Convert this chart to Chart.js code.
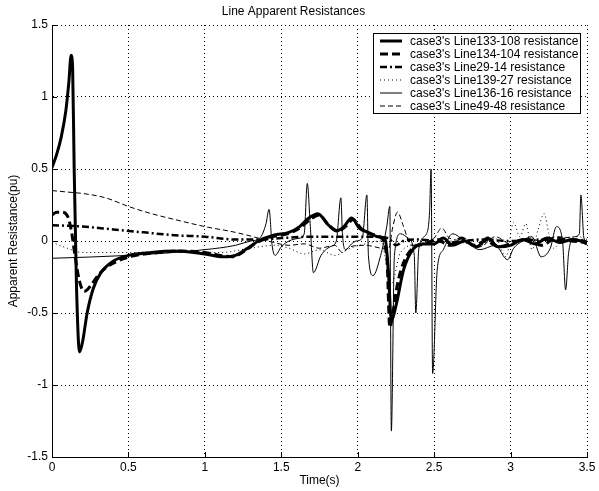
<!DOCTYPE html>
<html>
<head>
<meta charset="utf-8">
<script src="https://cdn.jsdelivr.net/npm/chart.js@4.4.0/dist/chart.umd.min.js"></script>
<style>
  body { margin: 0; background: #fff; }
  #wrap { width: 599px; height: 491px; }
</style>
</head>
<body>
<div id="wrap"><canvas id="chart-1"></canvas></div>
<script>
const xTicks = [0, 0.5, 1, 1.5, 2, 2.5, 3, 3.5];
const yTicks = [-1.5, -1, -0.5, 0, 0.5, 1, 1.5];

const names = [
  "case3's Line133-108 resistance",
  "case3's Line134-104 resistance",
  "case3's Line29-14 resistance",
  "case3's Line139-27 resistance",
  "case3's Line136-16 resistance",
  "case3's Line49-48 resistance",
];

// Line133-108
const t1 = [0, .03, .06, .09, .11, .125, .135, .145, .16, .18, .2, .23, .27, .32, .4, .5, .65, .8, 1.0, 1.12, 1.2, 1.28, 1.35, 1.45, 1.55, 1.62, 1.68, 1.74, 1.8, 1.86, 1.91, 1.96, 2.01, 2.07, 2.13, 2.18, 2.2, 2.22, 2.25, 2.3, 2.36, 2.42, 2.5, 2.56, 2.62, 2.7, 2.78, 2.85, 2.92, 3.0, 3.08, 3.16, 3.24, 3.32, 3.4, 3.46, 3.5];
const r1 = [.51, .6, .72, .9, 1.1, 1.29, 1.2, .5, -.3, -.77, -.7, -.5, -.33, -.22, -.14, -.1, -.08, -.07, -.09, -.11, -.1, -.05, 0, .04, .06, .1, .16, .19, .12, .07, .1, .16, .09, .06, .03, .01, -.2, -.55, -.45, -.2, -.06, -.02, -.02, .02, -.03, 0, -.04, .02, -.04, -.03, .01, -.02, .02, -.01, .01, 0, -.02];

// Line134-104
const t2 = [0, .03, .06, .09, .11, .13, .15, .18, .21, .23, .26, .3, .36, .45, .55, .7, .85, 1.0, 1.1, 1.18, 1.26, 1.34, 1.44, 1.54, 1.62, 1.69, 1.75, 1.81, 1.87, 1.92, 1.97, 2.02, 2.08, 2.14, 2.19, 2.21, 2.23, 2.26, 2.3, 2.36, 2.44, 2.52, 2.6, 2.68, 2.76, 2.84, 2.92, 3.0, 3.1, 3.2, 3.3, 3.4, 3.5];
const r2 = [.18, .2, .2, .19, .15, .05, -.1, -.28, -.35, -.34, -.3, -.24, -.18, -.13, -.1, -.08, -.07, -.08, -.1, -.11, -.07, -.01, .03, .05, .09, .15, .18, .11, .07, .1, .15, .09, .05, .03, -.1, -.6, -.5, -.3, -.15, -.05, -.02, .01, -.03, .02, -.03, 0, -.04, -.02, .01, -.03, .02, 0, -.01];

// Line29-14
const t3 = [0, .2, .4, .6, .8, 1.0, 1.2, 1.35, 1.5, 1.7, 1.9, 2.1, 2.2, 2.25, 2.3, 2.4, 2.6, 2.8, 3.0, 3.2, 3.4, 3.5];
const r3 = [.11, .1, .08, .06, .04, .03, .01, .01, .02, .03, .03, .03, .02, -.03, 0, .01, -.01, .01, 0, .01, 0, .01];

// Line139-27
const t4 = [0, .1, .2, .3, .5, .8, 1.1, 1.3, 1.45, 1.55, 1.65, 1.75, 1.85, 1.95, 2.05, 2.15, 2.22, 2.28, 2.4, 2.6, 2.8, 2.9, 2.97, 3.02, 3.06, 3.1, 3.14, 3.18, 3.22, 3.25, 3.28, 3.35, 3.45, 3.5];
const r4 = [-.01, -.05, -.08, -.08, -.08, -.07, -.08, -.05, -.03, -.05, -.09, -.06, -.1, -.05, -.02, 0, -.3, -.08, -.02, 0, -.03, .02, -.11, .13, .03, .12, -.06, .08, .19, .05, -.05, .02, .03, 0];

// Line136-16
const t5 = [0, .5, 1.0, 1.2, 1.3, 1.36, 1.4, 1.42, 1.44, 1.46, 1.5, 1.55, 1.62, 1.65, 1.67, 1.69, 1.71, 1.76, 1.82, 1.86, 1.89, 1.9, 1.92, 1.96, 1.99, 2.03, 2.06, 2.07, 2.1, 2.15, 2.19, 2.21, 2.22, 2.24, 2.28, 2.33, 2.37, 2.38, 2.4, 2.45, 2.47, 2.48, 2.49, 2.52, 2.56, 2.62, 2.7, 2.8, 2.9, 2.98, 3.02, 3.08, 3.14, 3.2, 3.26, 3.3, 3.34, 3.36, 3.38, 3.42, 3.45, 3.46, 3.48, 3.5];
const r5 = [-.12, -.1, -.06, -.03, 0, .02, .12, .22, -.03, -.1, -.04, 0, .02, .05, .4, .1, -.22, -.1, -.04, 0, .3, .05, -.06, -.02, 0, .02, .32, -.1, -.24, -.1, .1, .24, -1.32, -.1, .05, .02, -.1, -.5, -.05, .05, .2, .5, -.92, -.2, -.06, .05, 0, -.06, -.03, -.13, -.05, 0, .03, -.11, -.05, .1, 0, -.34, -.08, .03, .05, .32, .02, 0];

// Line49-48
const t6 = [0, .1, .2, .35, .5, .65, .8, 1.0, 1.2, 1.35, 1.45, 1.55, 1.65, 1.75, 1.85, 1.9, 1.95, 2.05, 2.15, 2.2, 2.23, 2.26, 2.3, 2.35, 2.42, 2.5, 2.55, 2.6, 2.7, 2.8, 2.9, 3.0, 3.1, 3.2, 3.3, 3.4, 3.5];
const r6 = [.35, .34, .33, .3, .24, .19, .15, .1, .06, .02, -.01, -.03, -.02, -.05, -.03, -.08, -.04, -.03, -.05, -.06, .1, .2, .1, -.03, -.02, .02, .09, .02, 0, -.04, .03, -.02, .02, 0, .03, .02, 0];

function pts(t, r) {
  return t.map(function (x, i) { return { x: x, y: r[i] }; });
}

const styles = [
  { borderWidth: 3, borderDash: [] },
  { borderWidth: 3, borderDash: [8, 4] },
  { borderWidth: 2.5, borderDash: [7, 3, 2, 3] },
  { borderWidth: 1, borderDash: [1, 3] },
  { borderWidth: 1, borderDash: [] },
  { borderWidth: 1, borderDash: [5, 3] },
];

const series = [[t1, r1], [t2, r2], [t3, r3], [t4, r4], [t5, r5], [t6, r6]];

const datasets = series.map(function (s, i) {
  return {
    label: names[i],
    data: pts(s[0], s[1]),
    borderColor: "#000",
    borderWidth: styles[i].borderWidth,
    borderDash: styles[i].borderDash,
    pointRadius: 0,
    cubicInterpolationMode: "monotone",
    fill: false,
  };
});

const FONT = "Liberation Sans, Arial, sans-serif";

// legend box drawn inside the plot, top right
const boxLegend = {
  id: "boxLegend",
  afterDraw(chart) {
    const ctx = chart.ctx;
    const area = chart.chartArea;
    const x0 = area.right - 214, y0 = area.top + 8, w = 207, h = 80;
    ctx.save();
    ctx.fillStyle = "#fff";
    ctx.fillRect(x0, y0, w, h);
    ctx.strokeStyle = "#000";
    ctx.lineWidth = 1;
    ctx.setLineDash([]);
    ctx.strokeRect(x0 + 0.5, y0 + 0.5, w, h);
    ctx.font = "12px " + FONT;
    ctx.fillStyle = "#000";
    ctx.textBaseline = "middle";
    chart.data.datasets.forEach(function (ds, i) {
      const y = y0 + 8 + i * 13;
      ctx.beginPath();
      ctx.lineWidth = ds.borderWidth;
      ctx.setLineDash(ds.borderDash);
      ctx.moveTo(x0 + 7, y);
      ctx.lineTo(x0 + 29, y);
      ctx.stroke();
      ctx.setLineDash([]);
      ctx.fillText(ds.label, x0 + 37, y + 0.5);
    });
    ctx.restore();
  },
};

// small inward tick marks like the original plot
const inTicks = {
  id: "inTicks",
  afterDraw(chart) {
    const ctx = chart.ctx;
    const a = chart.chartArea;
    const xs = chart.scales.x, ys = chart.scales.y;
    ctx.save();
    ctx.strokeStyle = "#000";
    ctx.lineWidth = 1;
    ctx.beginPath();
    xTicks.forEach(function (v) {
      const p = Math.round(xs.getPixelForValue(v)) + 0.5;
      ctx.moveTo(p, a.bottom);
      ctx.lineTo(p, a.bottom - 5);
    });
    yTicks.forEach(function (v) {
      const p = Math.round(ys.getPixelForValue(v)) + 0.5;
      ctx.moveTo(a.left, p);
      ctx.lineTo(a.left + 5, p);
    });
    ctx.stroke();
    ctx.restore();
  },
};

function plain(v) { return String(v); }

new Chart(document.getElementById("chart-1"), {
  type: "line",
  data: { datasets: datasets },
  plugins: [boxLegend, inTicks],
  options: {
    responsive: true,
    maintainAspectRatio: false,
    animation: false,
    layout: { padding: { right: 12 } },
    plugins: {
      legend: { display: false },
      tooltip: { enabled: false },
      title: {
        display: true,
        text: "Line Apparent Resistances",
        color: "#000",
        font: { family: FONT, size: 12, weight: "normal" },
        padding: { top: 4, bottom: 6.6 },
      },
    },
    scales: {
      x: {
        type: "linear",
        min: 0,
        max: 3.5,
        afterBuildTicks(scale) {
          scale.ticks = xTicks.map(function (v) { return { value: v }; });
        },
        afterFit(scale) { scale.height = 34; },
        ticks: { color: "#000", font: { family: FONT, size: 12 }, padding: 3, maxRotation: 0, callback: plain },
        grid: { color: "#000", lineWidth: 1, drawTicks: false },
        border: { color: "#000", width: 1, dash: [1, 3] },
        title: {
          display: true,
          text: "Time(s)",
          color: "#000",
          font: { family: FONT, size: 12 },
          padding: { top: 0, bottom: 3 },
        },
      },
      y: {
        min: -1.5,
        max: 1.5,
        afterBuildTicks(scale) {
          scale.ticks = yTicks.map(function (v) { return { value: v }; });
        },
        afterFit(scale) { scale.width = 52; },
        ticks: { color: "#000", font: { family: FONT, size: 12 }, padding: 4, callback: plain },
        grid: { color: "#000", lineWidth: 1, drawTicks: false },
        border: { color: "#000", width: 1, dash: [1, 3] },
        title: {
          display: true,
          text: "Apparent Resistance(pu)",
          color: "#000",
          font: { family: FONT, size: 12 },
          padding: { top: 6, bottom: 0 },
        },
      },
    },
  },
});
</script>
</body>
</html>
